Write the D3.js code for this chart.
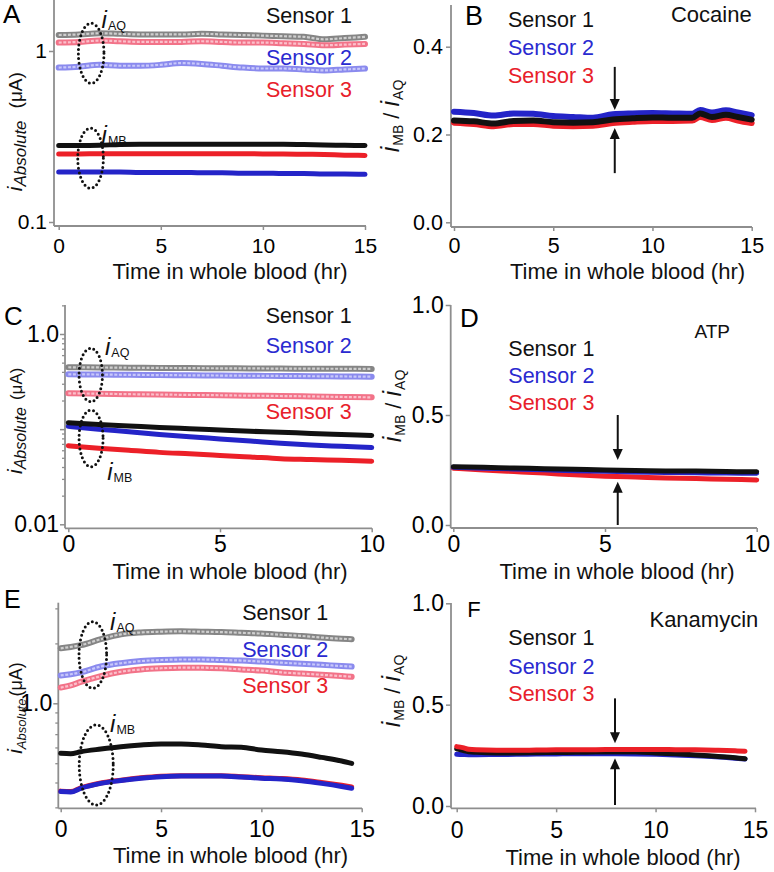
<!DOCTYPE html>
<html><head><meta charset="utf-8">
<script src="https://cdn.jsdelivr.net/npm/d3@7"></script>
<style>body{margin:0;background:#fff}svg{display:block}</style>
</head><body><svg id="c" width="774" height="872"></svg>
<script>
// ---------------- DATA ----------------
const sensorNames = ["Sensor 1", "Sensor 2", "Sensor 3"];
const analytes = ["Cocaine", "ATP", "Kanamycin"];

// Panel A (cocaine, absolute currents, µA)
const timeA = [0,1,2,3,4,5,6,7,8,9,10,11,12,13,14,15];
const aqA1 = [1.24,1.25,1.27,1.26,1.25,1.25,1.25,1.26,1.25,1.24,1.23,1.22,1.21,1.17,1.19,1.21];
const aqA2 = [0.80,0.81,0.83,0.82,0.82,0.83,0.85,0.84,0.82,0.80,0.79,0.79,0.78,0.77,0.78,0.79];
const aqA3 = [1.12,1.13,1.15,1.14,1.13,1.13,1.13,1.14,1.13,1.12,1.12,1.11,1.10,1.08,1.09,1.10];
const mbA1 = [0.280,0.280,0.281,0.284,0.285,0.285,0.285,0.285,0.285,0.285,0.285,0.285,0.284,0.282,0.281,0.280];
const mbA2 = [0.196,0.196,0.196,0.196,0.195,0.195,0.195,0.194,0.194,0.193,0.193,0.192,0.192,0.191,0.191,0.190];
const mbA3 = [0.250,0.250,0.251,0.251,0.251,0.251,0.251,0.251,0.251,0.251,0.250,0.250,0.249,0.248,0.246,0.245];

// Panel B (cocaine ratio)
const timeB = [0,1,2,3,4,5,6,7,8,9,10,11,12,12.4,13,13.7,14.3,15];
const ratioB1 = [0.232,0.230,0.225,0.231,0.232,0.228,0.227,0.228,0.234,0.237,0.239,0.238,0.238,0.248,0.240,0.245,0.240,0.234];
const ratioB2 = [0.252,0.249,0.243,0.248,0.247,0.242,0.240,0.238,0.246,0.248,0.249,0.248,0.247,0.256,0.250,0.255,0.250,0.244];
const ratioB3 = [0.227,0.224,0.219,0.224,0.224,0.220,0.219,0.220,0.226,0.229,0.231,0.231,0.232,0.240,0.233,0.238,0.232,0.226];

// Panel C (ATP, absolute currents)
const timeC = [0,1,2,3,4,5,6,7,8,9,10];
const aqC1 = [0.447,0.445,0.442,0.440,0.438,0.436,0.435,0.433,0.432,0.431,0.430];
const aqC2 = [0.377,0.375,0.372,0.370,0.368,0.366,0.364,0.362,0.360,0.358,0.356];
const aqC3 = [0.238,0.236,0.233,0.231,0.229,0.227,0.225,0.223,0.221,0.218,0.216];
const mbC1 = [0.117,0.112,0.108,0.104,0.101,0.098,0.095,0.093,0.090,0.088,0.086];
const mbC2 = [0.107,0.100,0.094,0.088,0.083,0.079,0.075,0.071,0.068,0.066,0.064];
const mbC3 = [0.067,0.063,0.060,0.057,0.055,0.053,0.051,0.049,0.048,0.047,0.046];

// Panel D (ATP ratio)
const timeD = [0,1,2,3,4,5,6,7,8,9,10];
const ratioD1 = [0.265,0.262,0.259,0.256,0.253,0.250,0.248,0.246,0.245,0.243,0.242];
const ratioD2 = [0.262,0.258,0.255,0.251,0.247,0.244,0.241,0.239,0.237,0.236,0.235];
const ratioD3 = [0.258,0.250,0.243,0.236,0.228,0.222,0.218,0.214,0.211,0.208,0.205];

// Panel E (kanamycin, absolute currents)
const timeE = [0,0.5,1,2,3,4,5,6,7,8,9,10,11,12,13,14,14.5];
const aqE1 = [1.89,1.92,1.96,2.10,2.22,2.27,2.29,2.30,2.29,2.28,2.26,2.24,2.21,2.18,2.14,2.11,2.10];
const aqE2 = [1.38,1.40,1.43,1.53,1.59,1.63,1.65,1.66,1.66,1.65,1.64,1.62,1.60,1.58,1.56,1.54,1.53];
const aqE3 = [1.20,1.23,1.28,1.37,1.44,1.48,1.50,1.51,1.51,1.50,1.48,1.46,1.43,1.41,1.39,1.37,1.36];
const mbE1 = [0.561,0.558,0.571,0.589,0.605,0.617,0.624,0.624,0.617,0.605,0.601,0.582,0.571,0.556,0.535,0.513,0.499];
const mbE2 = [0.360,0.358,0.374,0.396,0.409,0.420,0.428,0.431,0.431,0.431,0.426,0.420,0.416,0.408,0.396,0.382,0.374];
const mbE3 = [0.362,0.360,0.376,0.398,0.411,0.422,0.430,0.433,0.433,0.433,0.428,0.423,0.419,0.412,0.400,0.387,0.380];

// Panel F (kanamycin ratio)
const timeF = [0,0.3,0.6,1,2,3,4,5,6,7,8,9,10,11,12,13,14,14.5];
const ratioF1 = [0.282,0.275,0.268,0.265,0.262,0.262,0.263,0.264,0.265,0.266,0.267,0.266,0.262,0.258,0.252,0.245,0.238,0.233];
const ratioF2 = [0.255,0.254,0.253,0.253,0.254,0.255,0.256,0.257,0.258,0.258,0.258,0.257,0.255,0.252,0.248,0.243,0.236,0.232];
const ratioF3 = [0.293,0.288,0.280,0.277,0.275,0.275,0.276,0.277,0.278,0.278,0.279,0.279,0.279,0.278,0.277,0.275,0.272,0.270];

// Tick values
const xTicks15 = [0,5,10,15];
const xTicks10 = [0,5,10];
const yTicksA = [0.1,1];
const yTicksB = [0,0.2,0.4];
const yTicksC = [0.01,0.1,1];
const yMinorC = [0.02,0.03,0.04,0.05,0.06,0.07,0.08,0.09,0.2,0.3,0.4,0.5,0.6,0.7,0.8,0.9,2];
const yTicksE = [1];
const yMinorE = [0.3,0.4,0.5,0.6,0.7,0.8,0.9,2,3];
const yTicksR = [0,0.5,1];

// Annotations in data units: [time, value]
const ellA = [[1.59,0.97],[1.56,0.236]];
const ellC = [[0.74,0.371],[0.75,0.080]];
const ellE = [[1.6,1.75],[1.77,0.49]];
const lblA = [[2.1,1.358],[2.1,0.290]];
const lblC = [[1.21,0.602],[1.28,0.0292]];
const lblE = [[2.46,2.335],[2.46,0.720]];
const arrowB = {t:8.1, down:[0.354,0.256], up:[0.112,0.215]};
const arrowD = {t:5.42, down:[0.5,0.295], up:[0.0,0.197]};
const arrowF = {t:7.96, down:[0.531,0.309], up:[0.005,0.235]};

// ---------------- STYLE ----------------
const FONT = '"Liberation Sans", Arial, Helvetica, sans-serif';
const AXIS = "#8e8e8e";
const mbColors = ["#111111", "#2424c8", "#ec2028"];
const aqOuter = ["#858585", "#8a8aee", "#f27288"];
const aqInner = ["#cfcfcf", "#c8c8fa", "#fbc0cb"];
const textColors = ["#111111", "#2a2ad0", "#e8202a"];

const svg = d3.select("#c");

function drawPanel(p) {
  const g = svg.append("g");
  const x = d3.scaleLinear().domain([0, p.xmax]).range([p.x0, p.x1]);
  const y = (p.log ? d3.scaleLog() : d3.scaleLinear()).domain(p.yd).range(p.yr);

  // axes lines
  g.append("line").attr("x1", p.ax).attr("x2", p.ax).attr("y1", p.atop).attr("y2", p.ay)
    .attr("stroke", AXIS).attr("stroke-width", 1.8);
  g.append("line").attr("x1", p.ax).attr("x2", p.aright).attr("y1", p.ay).attr("y2", p.ay)
    .attr("stroke", AXIS).attr("stroke-width", 1.8);

  // x axis
  const xpad = p.xBase - p.ay - 4 - 0.71 * p.tf;
  const gx = g.append("g").attr("transform", `translate(0,${p.ay})`)
    .call(d3.axisBottom(x).tickValues(p.xticks).tickSize(4).tickPadding(xpad).tickFormat(d3.format("d")));
  // y axis
  const gy = g.append("g").attr("transform", `translate(${p.ax},0)`)
    .call(d3.axisLeft(y).tickValues(p.yticks).tickSize(5).tickPadding(p.ypad).tickFormat(p.yfmt));
  [gx, gy].forEach(a => {
    a.select(".domain").remove();
    a.selectAll("line").attr("stroke", AXIS).attr("stroke-width", 1.5);
    a.selectAll("text").attr("fill", "#000").attr("font-family", FONT).attr("font-size", p.tf);
    a.attr("font-family", FONT);
  });
  if (p.yminor) {
    const gm = g.append("g").attr("transform", `translate(${p.ax},0)`)
      .call(d3.axisLeft(y).tickValues(p.yminor).tickSize(3).tickFormat(""));
    gm.select(".domain").remove();
    gm.selectAll("line").attr("stroke", AXIS).attr("stroke-width", 1.3);
  }

  // series
  const line = d3.line().x(d => x(d[0])).y(d => y(d[1])).curve(d3.curveMonotoneX);
  (p.aq || []).forEach((vals, i) => {
    const pts = p.t.map((t, k) => [t, vals[k]]);
    g.append("path").attr("d", line(pts)).attr("fill", "none").attr("stroke", aqOuter[i])
      .attr("stroke-width", 6).attr("stroke-linecap", "round");
    g.append("path").attr("d", line(pts)).attr("fill", "none").attr("stroke", aqInner[i])
      .attr("stroke-width", 2.2).attr("stroke-dasharray", "3 1.6");
  });
  p.mbOrder.forEach(i => {
    const vals = p.mb[i];
    const pts = p.t.map((t, k) => [t, vals[k]]);
    g.append("path").attr("d", line(pts)).attr("fill", "none").attr("stroke", mbColors[i])
      .attr("stroke-width", p.mbw).attr("stroke-linecap", "round").attr("stroke-linejoin", "round");
  });

  // ellipses and i labels
  if (p.ell) {
    p.ell.forEach((c, k) => {
      g.append("ellipse").attr("cx", x(c[0])).attr("cy", y(c[1]))
        .attr("rx", p.erx[k]).attr("ry", p.ery[k]).attr("fill", "none")
        .attr("stroke", "#111").attr("stroke-width", 3).attr("stroke-linecap", "round")
        .attr("stroke-dasharray", "0 4.6");
    });
    const subs = ["AQ", "MB"];
    p.lbl.forEach((c, k) => {
      const t = g.append("text").attr("x", x(c[0])).attr("y", y(c[1]))
        .attr("font-family", FONT).attr("fill", "#111");
      t.append("tspan").attr("font-style", "italic").attr("font-size", 24).text("i");
      t.append("tspan").attr("font-size", 12.5).attr("dx", 1).attr("dy", 2).text(subs[k]);
    });
  }

  // arrows
  if (p.arrow) {
    const ax = x(p.arrow.t);
    [p.arrow.down, p.arrow.up].forEach(seg => {
      const y1 = y(seg[0]), y2 = y(seg[1]);
      const dir = Math.sign(y2 - y1);
      g.append("line").attr("x1", ax).attr("x2", ax).attr("y1", y1).attr("y2", y2 - dir * 8)
        .attr("stroke", "#111").attr("stroke-width", 2);
      g.append("path").attr("d", `M${ax},${y2} L${ax - 5},${y2 - dir * 11} L${ax + 5},${y2 - dir * 11}Z`)
        .attr("fill", "#111");
    });
  }

  // panel letter
  g.append("text").attr("x", p.lx).attr("y", p.lyb).attr("font-family", FONT)
    .attr("font-size", p.lsize).attr("fill", "#000").text(p.letter);

  // legend
  sensorNames.forEach((s, i) => {
    g.append("text").attr("x", p.legX).attr("y", p.legY[i]).attr("text-anchor", p.legAnchor)
      .attr("font-family", FONT).attr("font-size", 21.5).attr("fill", textColors[i]).text(s);
  });
  if (p.analyte) {
    g.append("text").attr("x", p.analyte.x).attr("y", p.analyte.y).attr("text-anchor", "end")
      .attr("font-family", FONT).attr("font-size", p.analyte.fs).attr("fill", "#111").text(p.analyte.text);
  }

  // x title
  g.append("text").attr("x", p.titleX).attr("y", p.titleY).attr("text-anchor", "middle")
    .attr("font-family", FONT).attr("font-size", 22).attr("fill", "#111").text("Time in whole blood (hr)");

  // y title
  const yt = g.append("text").attr("transform", `translate(${p.ylx},${p.yly}) rotate(-90)`)
    .attr("text-anchor", "middle").attr("font-family", FONT).attr("fill", "#111");
  p.ylParts.forEach(pt => {
    const ts = yt.append("tspan").attr("font-size", pt.s).text(pt.t);
    if (pt.i) ts.attr("font-style", "italic");
    if (pt.dy) ts.attr("dy", pt.dy);
    if (pt.dx) ts.attr("dx", pt.dx);
  });
}

const absParts = (iS, subS, unitS, gap) => [
  {t:"i", s:iS, i:true},
  {t:"Absolute", s:subS, i:true, dy:4},
  {t:"(μA)", s:unitS, dy:-4, dx:gap}
];
const ratioParts = [
  {t:"i", s:25, i:true},
  {t:"MB", s:14, dy:4, dx:1},
  {t:" / ", s:22, dy:-4},
  {t:"i", s:25, i:true},
  {t:"AQ", s:14, dy:4, dx:1}
];

const logFmtA = d => d === 1 ? "1" : d === 0.1 ? "0.1" : "";
const logFmtC = d => d === 1 ? "1.0" : d === 0.01 ? "0.01" : "";
const fmt1 = d3.format(".1f");

drawPanel({letter:"A", lx:3, lyb:23, lsize:26,
  t:timeA, xmax:15, x0:58.7, x1:365, log:true, yd:[0.1,1], yr:[222,51],
  ax:54, atop:0, ay:226, aright:366, xticks:xTicks15, yticks:yTicksA, yfmt:logFmtA, ypad:2,
  tf:21, xBase:253,
  aq:[aqA1,aqA2,aqA3], mb:[mbA1,mbA2,mbA3], mbOrder:[2,1,0], mbw:5,
  ell:ellA, erx:[12.8,12.8], ery:[30,30], lbl:lblA,
  legX:352, legY:[23.3,65,97.3], legAnchor:"end",
  titleX:230, titleY:279, ylx:22, yly:131.7, ylParts:absParts(21,17,19,12)});

drawPanel({letter:"B", lx:465, lyb:25, lsize:27,
  t:timeB, xmax:15, x0:454, x1:751.7, log:false, yd:[0,0.4], yr:[222.3,46.7],
  ax:451, atop:5, ay:227, aright:752, xticks:xTicks15, yticks:yTicksB, yfmt:fmt1, ypad:3,
  tf:21.5, xBase:253.3,
  mb:[ratioB1,ratioB2,ratioB3], mbOrder:[1,2,0], mbw:6,
  arrow:arrowB,
  legX:508, legY:[27.3,55,83], legAnchor:"start",
  analyte:{text:analytes[0], x:751.7, y:21.7, fs:22},
  titleX:627.5, titleY:279, ylx:399, yly:116, ylParts:ratioParts});

drawPanel({letter:"C", lx:4, lyb:325, lsize:26,
  t:timeC, xmax:10, x0:68.3, x1:371.7, log:true, yd:[0.01,1], yr:[524.3,334],
  ax:65, atop:305, ay:528.3, aright:372, xticks:xTicks10, yticks:yTicksC, yminor:yMinorC, yfmt:logFmtC, ypad:1,
  tf:23, xBase:551.7,
  aq:[aqC1,aqC2,aqC3], mb:[mbC1,mbC2,mbC3], mbOrder:[2,1,0], mbw:5,
  ell:ellC, erx:[11.7,12], ery:[26.7,28.3], lbl:lblC,
  legX:351.7, legY:[322.7,353.3,419.3], legAnchor:"end",
  titleX:230, titleY:579, ylx:22, yly:420.8, ylParts:absParts(21,16,17,7)});

drawPanel({letter:"D", lx:460, lyb:326.7, lsize:26,
  t:timeD, xmax:10, x0:453.3, x1:756.7, log:false, yd:[0,1], yr:[525,305],
  ax:450.7, atop:305, ay:528, aright:757, xticks:xTicks10, yticks:yTicksR, yfmt:fmt1, ypad:2,
  tf:23, xBase:551.7,
  mb:[ratioD1,ratioD2,ratioD3], mbOrder:[2,1,0], mbw:5,
  arrow:arrowD,
  legX:508.3, legY:[356,383.3,410], legAnchor:"start",
  analyte:{text:analytes[1], x:730, y:338.3, fs:19},
  titleX:617, titleY:579, ylx:401, yly:406, ylParts:ratioParts});

drawPanel({letter:"E", lx:4, lyb:608.3, lsize:25,
  t:timeE, xmax:15, x0:60.7, x1:361.7, log:true, yd:[1,10], yr:[703.3,504.3],
  ax:58.3, atop:602.7, ay:808.3, aright:362, xticks:xTicks15, yticks:yTicksE, yminor:yMinorE, yfmt:fmt1, ypad:1,
  tf:23, xBase:836.7,
  aq:[aqE1,aqE2,aqE3], mb:[mbE1,mbE2,mbE3], mbOrder:[2,1,0], mbw:5,
  ell:ellE, erx:[13.8,17], ery:[33.3,40], lbl:lblE,
  legX:328.3, legY:[620,656.7,693.3], legAnchor:"end",
  titleX:230.5, titleY:863, ylx:22, yly:708, ylParts:absParts(21,13,18,2)});

drawPanel({letter:"F", lx:467.3, lyb:616.7, lsize:22,
  t:timeF, xmax:15, x0:456.7, x1:755, log:false, yd:[0,1], yr:[806,603.3],
  ax:451, atop:603, ay:808.3, aright:756, xticks:xTicks15, yticks:yTicksR, yfmt:fmt1, ypad:2,
  tf:23, xBase:838.3,
  mb:[ratioF1,ratioF2,ratioF3], mbOrder:[1,0,2], mbw:5,
  arrow:arrowF,
  legX:508.3, legY:[645,674,700.7], legAnchor:"start",
  analyte:{text:analytes[2], x:758.3, y:626.7, fs:22},
  titleX:623, titleY:865, ylx:400, yly:691, ylParts:ratioParts});
</script></body></html>
